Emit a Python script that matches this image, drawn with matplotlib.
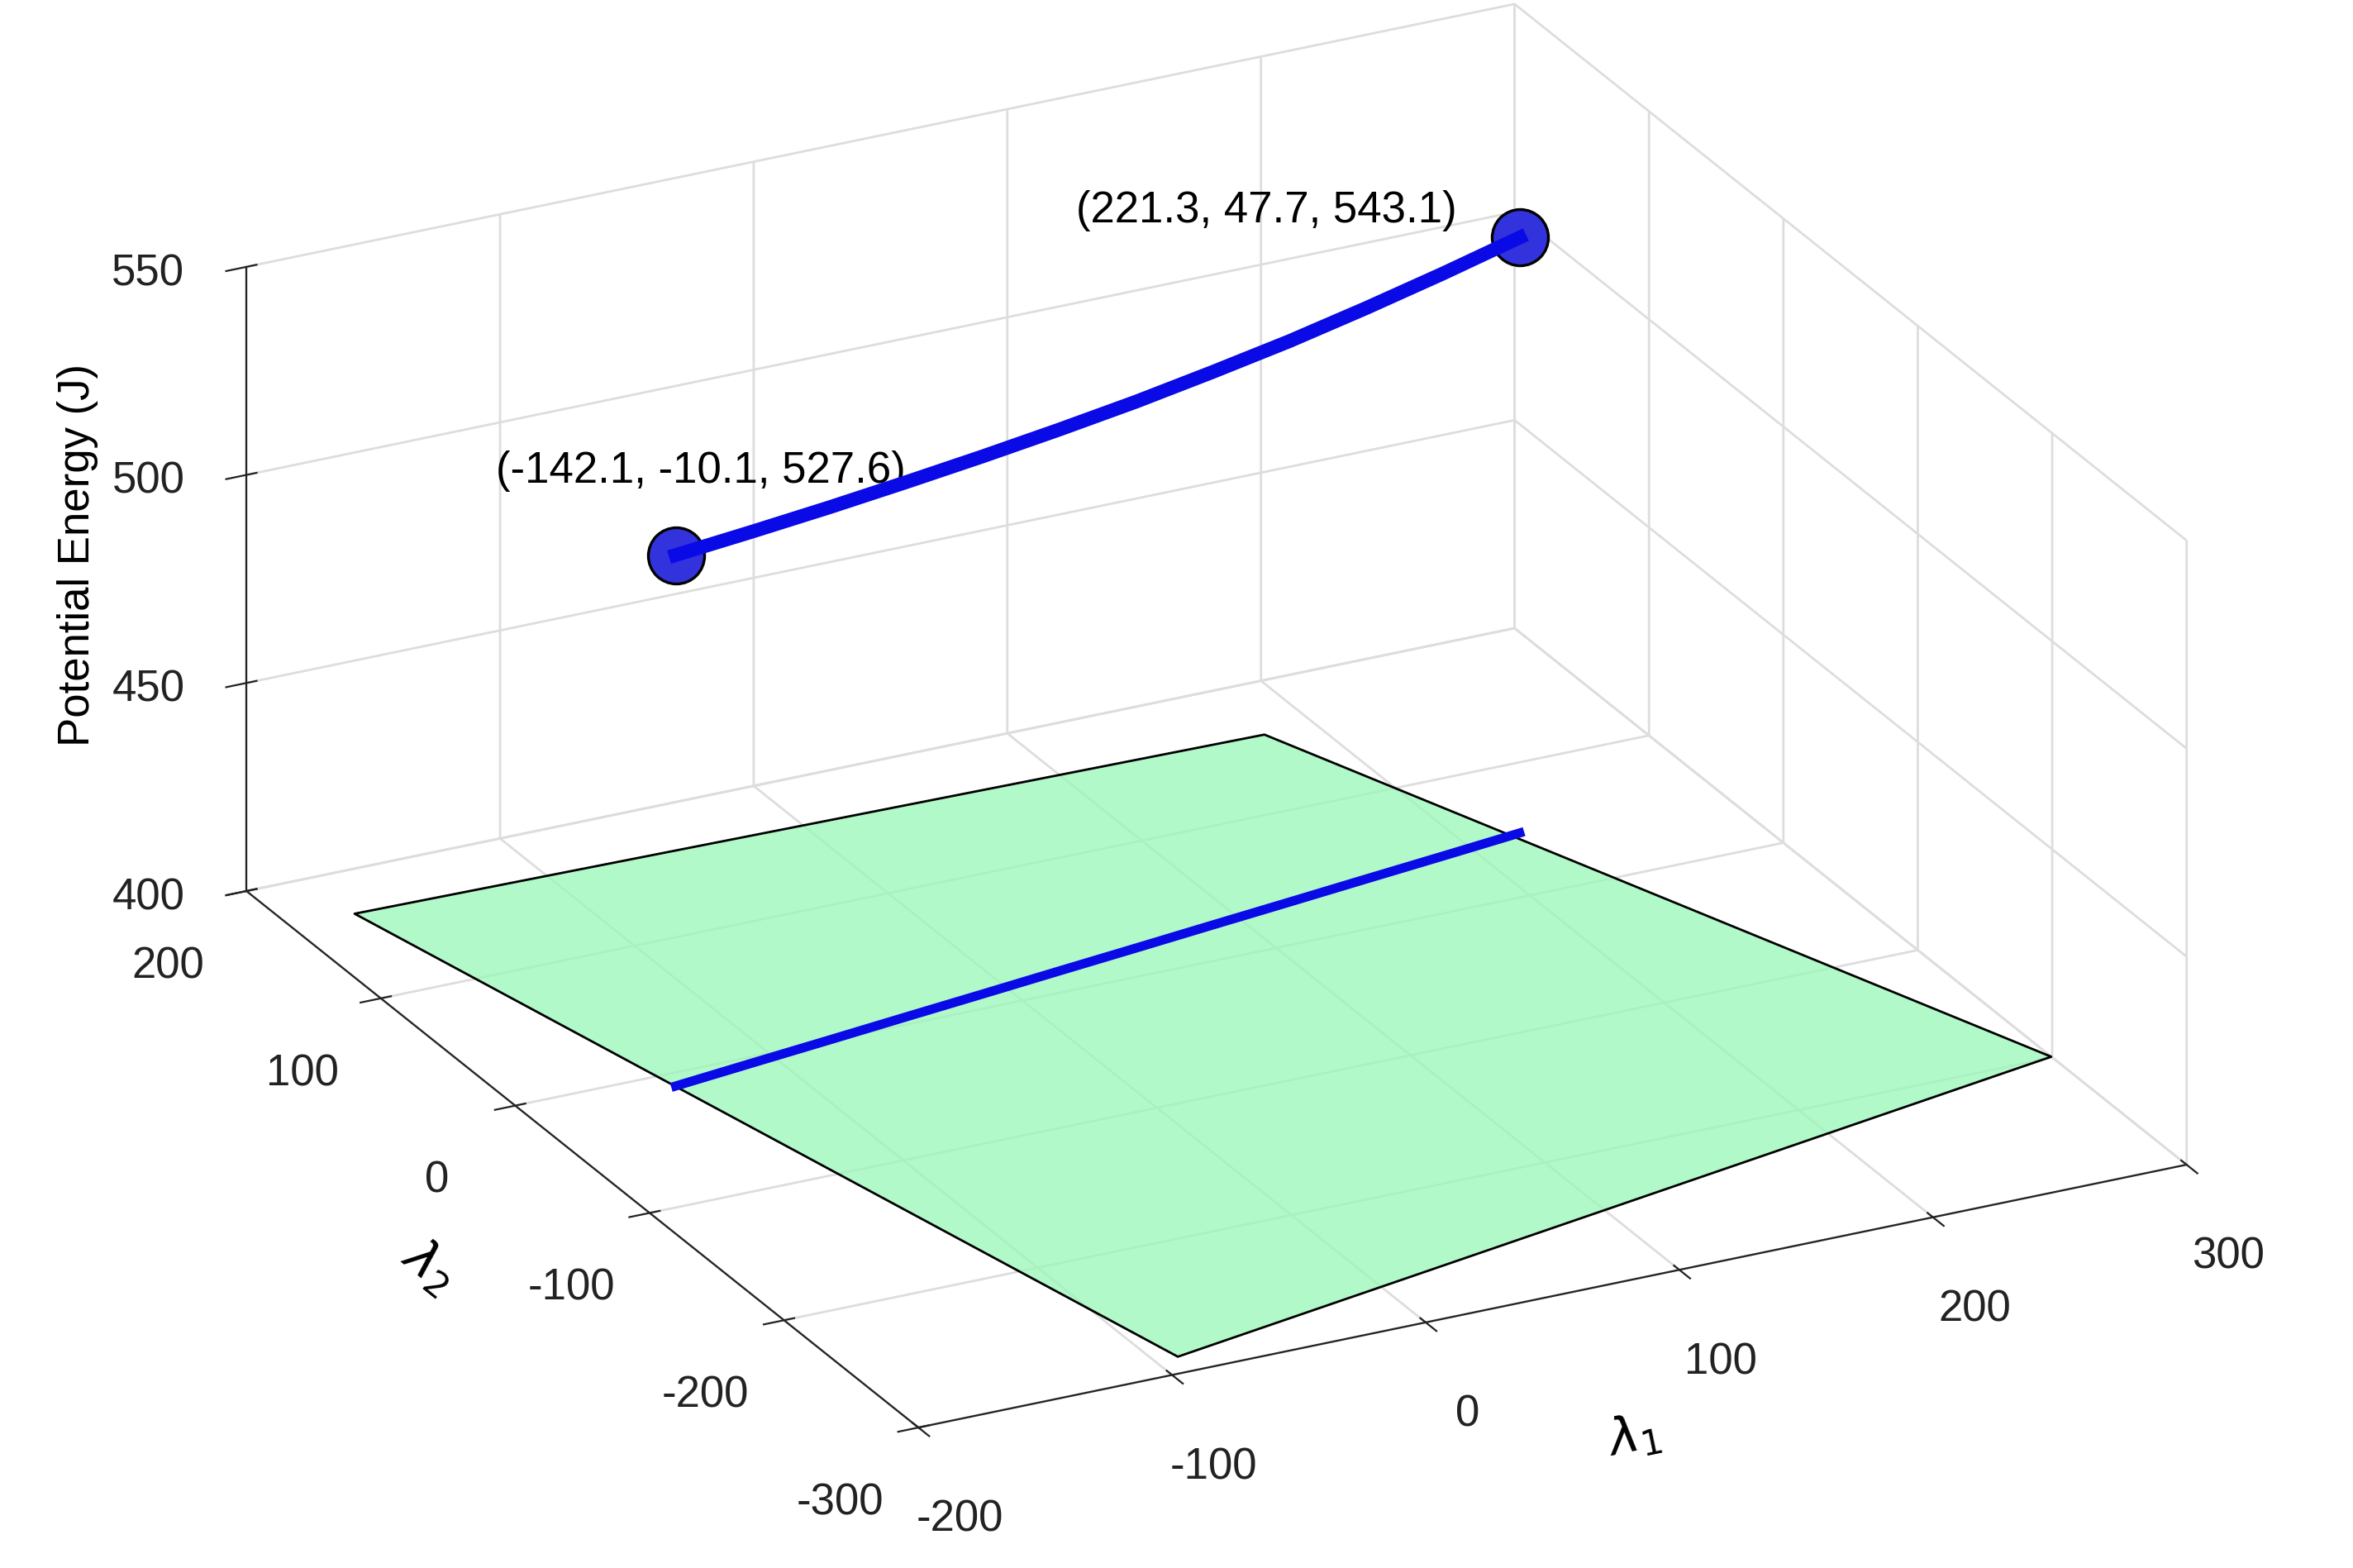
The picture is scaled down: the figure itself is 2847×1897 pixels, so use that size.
import numpy as np
import matplotlib
matplotlib.use("Agg")
import matplotlib.pyplot as plt
from mpl_toolkits.mplot3d.art3d import Poly3DCollection

plt.rcParams['font.family'] = ['Liberation Sans', 'DejaVu Sans']
plt.rcParams['axes.unicode_minus'] = False

# data
plane_x = [-91, 300, 180, -175]
plane_y = [-287, -199, 160, 167]
plane_z = [400, 400, 400, 400]
path_x = [-142.1, -109.1, -76.0, -43.0, -10.0, 23.0, 56.1, 89.1, 122.2, 155.2, 188.3, 221.3]
path_y = [-10.1, -4.8, 0.4, 5.7, 10.9, 16.2, 21.4, 26.7, 31.9, 37.2, 42.4, 47.7]
path_z = [527.6, 527.7, 528.0, 528.5, 529.2, 530.1, 531.3, 532.9, 534.8, 537.2, 540.0, 543.1]
start_label = "(-142.1, -10.1, 527.6)"
end_label = "(221.3, 47.7, 543.1)"
xticks = [-200, -100, 0, 100, 200, 300]
yticks = [-300, -200, -100, 0, 100, 200]
zticks = [400, 450, 500, 550]

fig = plt.figure(figsize=(14.235, 9.485), dpi=200)
ax = fig.add_axes([0.008, 0.03, 1.0, 1.0], projection='3d')
ax.set_proj_type('ortho')
ax.view_init(elev=24, azim=-117)
ax.set_box_aspect((1.25, 1.3, 0.6), zoom=1.34)

for a in (ax.xaxis, ax.yaxis, ax.zaxis):
    a.set_pane_color((1, 1, 1, 0))
    a.pane.set_edgecolor('#d0d0d0')
    a._axinfo['grid']['color'] = '#dddddd'
    a._axinfo['grid']['linewidth'] = 1.0
    a.line.set_color('#222222')

ax.set_xlim(-200, 300)
ax.set_ylim(-300, 200)
ax.set_zlim(400, 550)
ax.set_xticks(xticks)
ax.set_yticks(yticks)
ax.set_zticks(zticks)
ax.tick_params(labelsize=19, colors='#222222', pad=14)
ax.tick_params(axis='z', pad=10)

verts = [list(zip(plane_x, plane_y, plane_z))]
poly = Poly3DCollection(verts, facecolor=(0.6, 0.97, 0.72, 0.75), edgecolor='black', linewidth=1.0)
ax.add_collection3d(poly)
poly.set_clip_on(False)

l1, = ax.plot(path_x, path_y, [400] * len(path_x), color='#0a0ae6', lw=4, zorder=5)
l2, = ax.plot(path_x, path_y, path_z, color='#0a0ae6', lw=6, zorder=6)
sc = ax.scatter([path_x[0], path_x[-1]], [path_y[0], path_y[-1]], [path_z[0], path_z[-1]],
                s=600, color='#3333dd', edgecolor='black', linewidth=1.2, depthshade=False, zorder=7)
for art in (l1, l2, sc):
    art.set_clip_on(False)
ax.text(path_x[0] + 10, path_y[0], path_z[0] + 14, start_label, fontsize=19, ha='center', va='bottom')
ax.text(path_x[-1] - 100, path_y[-1], path_z[-1] + 14, end_label, fontsize=19, ha='center', va='bottom')

ax.set_xlabel(r'$\lambda_1$', fontsize=22, labelpad=22)
ax.set_ylabel(r'$\lambda_2$', fontsize=22, labelpad=22)
ax.zaxis.set_rotate_label(False)
ax.set_zlabel('Potential Energy (J)', fontsize=19, labelpad=10, rotation=90)

fig.savefig('out.png', dpi=200)
